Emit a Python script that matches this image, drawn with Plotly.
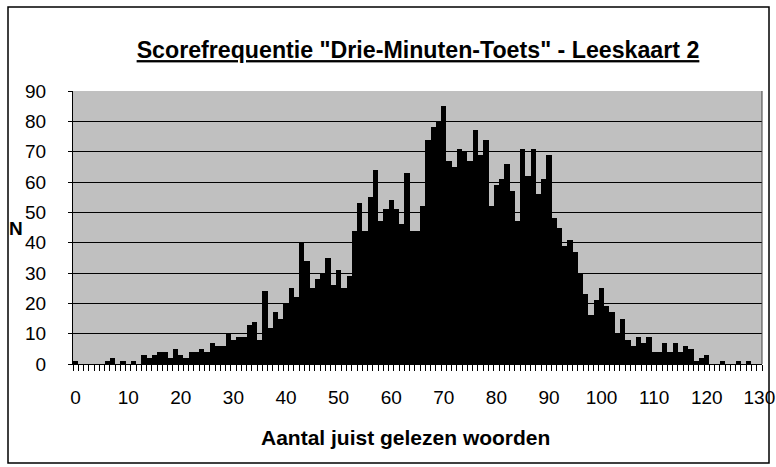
import plotly.graph_objects as go

scores = list(range(0, 131))
counts = [1, 0, 0, 0, 0, 0, 1, 2, 0, 1, 0, 1, 0, 3, 2, 3, 4, 4, 2, 5,
          3, 2, 4, 4, 5, 4, 7, 6, 6, 10, 8, 9, 9, 13, 14, 8, 24, 12, 17, 15,
          20, 25, 22, 40, 34, 25, 28, 30, 35, 26, 31, 25, 29, 44, 53, 44, 55, 64, 47, 51,
          54, 51, 46, 63, 44, 44, 52, 74, 78, 80, 85, 67, 65, 71, 70, 67, 77, 69, 74, 52,
          59, 61, 66, 57, 47, 71, 62, 71, 56, 61, 69, 48, 45, 39, 41, 37, 30, 23, 16, 21,
          25, 19, 17, 10, 15, 8, 6, 9, 7, 9, 4, 4, 7, 4, 7, 4, 6, 5, 1, 2,
          3, 0, 0, 1, 0, 0, 1, 0, 1, 0, 0]
x_ticks = list(range(0, 131, 10))
y_ticks = list(range(0, 91, 10))

title_text = 'Scorefrequentie "Drie-Minuten-Toets" - Leeskaart 2'
x_title = "Aantal juist gelezen woorden"
y_title = "N"

FONT = "Liberation Sans, Arial, sans-serif"

fig = go.Figure()
fig.add_trace(go.Bar(x=scores, y=counts, marker=dict(color="black", line=dict(width=0)),
                     hoverinfo="x+y"))

fig.update_layout(
    width=776, height=467,
    margin=dict(l=73, r=14, t=91, b=103),
    paper_bgcolor="white",
    plot_bgcolor="#C0C0C0",
    bargap=0,
    showlegend=False,
    font=dict(family=FONT, color="black", size=19),
    title=dict(text="<b><u>" + title_text + "</u></b>", x=418 / 776, xanchor="center",
               y=0.893, yanchor="middle", font=dict(size=23.2, family=FONT)),
    xaxis=dict(range=[-0.5, 130.5], tickmode="array", tickvals=x_ticks,
               ticktext=[str(v) for v in x_ticks], ticks="", showgrid=False,
               showline=True, linecolor="black", linewidth=1, zeroline=False,
               ticklabelstandoff=16, automargin=False,
               minor=dict(tickmode="linear", tick0=-0.5, dtick=1, ticks="outside",
                          ticklen=6, tickcolor="black", tickwidth=1, showgrid=False),
               mirror=False),
    yaxis=dict(range=[0, 90], tickvals=y_ticks, ticks="outside", ticklen=4,
               tickcolor="black", showgrid=True, gridcolor="black", gridwidth=1,
               showline=True, linecolor="black", linewidth=1, zeroline=False,
               ticklabelstandoff=18, automargin=False),
    annotations=[
        dict(text="<b>" + y_title + "</b>", xref="paper", yref="paper",
             x=(16 - 73) / 689, y=(364 - 228) / 273, xanchor="center",
             yanchor="middle", showarrow=False, font=dict(size=19)),
        dict(text="<b>" + x_title + "</b>", xref="paper", yref="paper",
             x=(405 - 73) / 689, y=(364 - 437) / 273, xanchor="center",
             yanchor="middle", showarrow=False, font=dict(size=21)),
    ],
)

# plot area right border
fig.add_shape(type="line", xref="paper", yref="paper", x0=1, x1=1, y0=0, y1=1,
              line=dict(color="#404040", width=1))
# chart outer border
fig.add_shape(type="rect", xref="paper", yref="paper",
              x0=-65 / 689, x1=1 + 7 / 689, y0=-99 / 273, y1=1 + 84 / 273,
              line=dict(color="black", width=1.5), fillcolor="rgba(0,0,0,0)")

fig.write_html("out.html", config={"displayModeBar": False},
               post_script="document.body.style.margin='0';")
